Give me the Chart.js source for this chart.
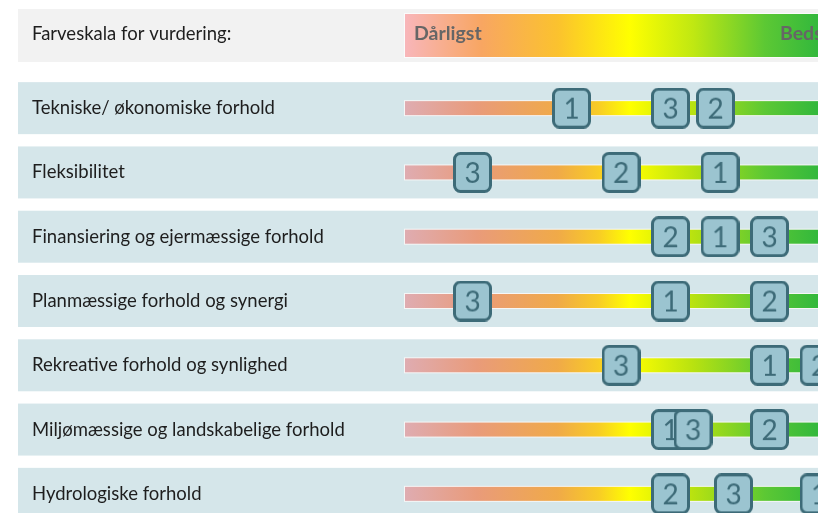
<!DOCTYPE html>
<html>
<head>
<meta charset="utf-8">
<script src="https://cdn.jsdelivr.net/npm/chart.js@4"></script>
<style>
  html, body { margin: 0; padding: 0; background: #fff; }
  #wrap { width: 818px; height: 513px; overflow: hidden; position: relative; }
  canvas { display: block; }
</style>
</head>
<body>
<div id="wrap"><canvas id="vurdering" width="880" height="540"></canvas></div>
<script>
// Kriterier (rækker)
const kriterier = [
    'Tekniske/ økonomiske forhold',
    'Fleksibilitet',
    'Finansiering og ejermæssige forhold',
    'Planmæssige forhold og synergi',
    'Rekreative forhold og synlighed',
    'Miljømæssige og landskabelige forhold',
    'Hydrologiske forhold'
];

// Vurdering pr. alternativ på skala 0 (dårligst) - 10 (bedst)
const alternativ1 = [3.7, 7.0, 7.0, 5.9, 8.1, 5.9, 9.2];
const alternativ2 = [6.9, 4.8, 5.9, 8.1, 9.2, 8.1, 5.9];
const alternativ3 = [5.9, 1.5, 8.1, 1.5, 4.8, 6.4, 7.3];

const skalaTitel = 'Farveskala for vurdering:';
const skalaMin = 'Dårligst';
const skalaMax = 'Bedst';

// Lav et lille billede af en nummereret boks til pointStyle
function lavBoks(nr) {
    const c = document.createElement('canvas');
    c.width = 39;
    c.height = 41;
    const g = c.getContext('2d');
    g.beginPath();
    g.roundRect(1.5, 1.5, 36, 38, 6);
    g.fillStyle = '#9bc4d0';
    g.fill();
    g.lineWidth = 3;
    g.strokeStyle = '#3d6b78';
    g.stroke();
    g.fillStyle = '#3d6b78';
    g.font = '28px Lato';
    g.textAlign = 'center';
    g.textBaseline = 'middle';
    g.fillText(String(nr), 19.5, 22);
    return c;
}

function lavGradient(ctx, x0, x1, blege) {
    const grad = ctx.createLinearGradient(x0, 0, x1, 0);
    if (blege) {
        grad.addColorStop(0, '#dfacb1');
        grad.addColorStop(0.16, '#e99b7a');
        grad.addColorStop(0.34, '#f0aa48');
        grad.addColorStop(0.43, '#f8cc26');
        grad.addColorStop(0.5, '#ffff00');
        grad.addColorStop(0.64, '#b8e210');
        grad.addColorStop(0.8, '#5cc834');
        grad.addColorStop(1, '#16ad42');
    } else {
        grad.addColorStop(0, '#f8b6ba');
        grad.addColorStop(0.17, '#f8a662');
        grad.addColorStop(0.34, '#fbc22e');
        grad.addColorStop(0.5, '#ffff00');
        grad.addColorStop(0.64, '#c0e812');
        grad.addColorStop(0.8, '#5cc834');
        grad.addColorStop(1, '#16ad42');
    }
    return grad;
}

// Plugin: baggrunde, tekster og farvebjælker
const baggrundPlugin = {
    id: 'baggrund',
    beforeDatasetsDraw(chart) {
        const ctx = chart.ctx;
        const x = chart.scales.x;
        const y = chart.scales.y;
        const venstre = 18;
        const hoejre = chart.width - 18;
        const x0 = x.getPixelForValue(0);
        const x1 = x.getPixelForValue(10);
        ctx.save();

        // Farveskala øverst
        ctx.fillStyle = '#f2f2f2';
        ctx.fillRect(venstre, 9, hoejre - venstre, 53);
        ctx.fillStyle = '#fbfbfb';
        ctx.fillRect(x0 - 1, 13, x1 - x0 + 2, 45);
        ctx.fillStyle = lavGradient(ctx, x0, x1, false);
        ctx.fillRect(x0, 14, x1 - x0, 43);
        ctx.fillStyle = '#1e1e1e';
        ctx.font = '18.5px Lato';
        ctx.textBaseline = 'middle';
        ctx.textAlign = 'left';
        ctx.fillText(skalaTitel, 32, 34);
        ctx.fillStyle = '#666';
        ctx.font = 'bold 19.5px Lato';
        ctx.fillText(skalaMin, x0 + 9, 34);
        ctx.fillText(skalaMax, 780, 34);

        // Rækker
        kriterier.forEach((navn, i) => {
            const cy = y.getPixelForValue(i);
            ctx.fillStyle = '#d5e6ea';
            ctx.fillRect(venstre, cy - 26, hoejre - venstre, 52);
            ctx.fillStyle = '#1e1e1e';
            ctx.font = '18.5px Lato';
            ctx.textAlign = 'left';
            ctx.fillText(navn, 32, cy);
            ctx.fillStyle = '#f6f6f6';
            ctx.fillRect(x0 - 1, cy - 8, x1 - x0 + 2, 16);
            ctx.fillStyle = lavGradient(ctx, x0, x1, true);
            ctx.fillRect(x0, cy - 7, x1 - x0, 14);
        });
        ctx.restore();
    }
};

function punkter(vaerdier) {
    return vaerdier.map((v, i) => ({ x: v, y: kriterier[i] }));
}

function tegn() {
    const ctx = document.getElementById('vurdering').getContext('2d');
    new Chart(ctx, {
        type: 'scatter',
        data: {
            datasets: [
                { label: '1', data: punkter(alternativ1), pointStyle: lavBoks(1), order: 2 },
                { label: '2', data: punkter(alternativ2), pointStyle: lavBoks(2), order: 1 },
                { label: '3', data: punkter(alternativ3), pointStyle: lavBoks(3), order: 0 }
            ]
        },
        options: {
            responsive: false,
            animation: false,
            devicePixelRatio: 1,
            layout: { padding: { left: 405, right: 25, top: 76, bottom: 14 } },
            plugins: {
                legend: { display: false },
                tooltip: { enabled: false }
            },
            scales: {
                x: { type: 'linear', min: 0, max: 10, display: false },
                y: { type: 'category', labels: kriterier, offset: true, display: false }
            }
        },
        plugins: [baggrundPlugin]
    });
}

document.fonts.load('18px Lato').then(tegn, tegn);
</script>
</body>
</html>
